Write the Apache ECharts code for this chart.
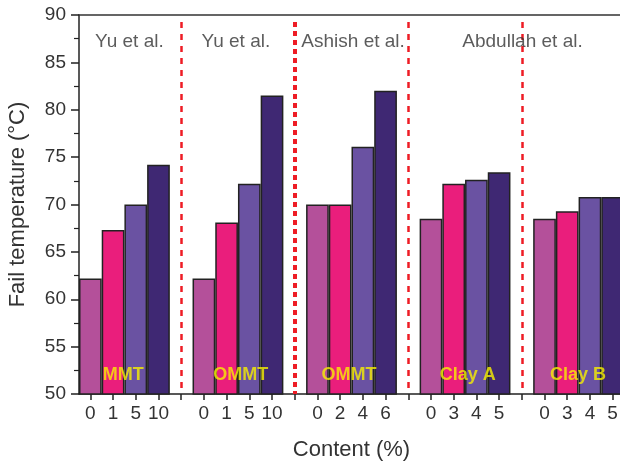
<!DOCTYPE html>
<html>
<head>
<meta charset="utf-8">
<script src="https://cdn.jsdelivr.net/npm/echarts@6/dist/echarts.min.js"></script>
<style>
html,body{margin:0;padding:0;background:#fff;}
#chart{width:620px;height:461px;}
</style>
</head>
<body>
<div id="chart"></div>
<script>
// ---- data ----
const contentLabels = [
  ['0', '1', '5', '10'],
  ['0', '1', '5', '10'],
  ['0', '2', '4', '6'],
  ['0', '3', '4', '5'],
  ['0', '3', '4', '5']
];
const failTemp = [
  [62.2, 67.3, 70.0, 74.2],
  [62.2, 68.1, 72.2, 81.5],
  [70.0, 70.0, 76.1, 82.0],
  [68.5, 72.2, 72.6, 73.4],
  [68.5, 69.3, 70.8, 70.8]
];
const materials = ['MMT', 'OMMT', 'OMMT', 'Clay A', 'Clay B'];
const studies = ['Yu et al.', 'Yu et al.', 'Ashish et al.', 'Abdullah et al.'];
const yMin = 50, yMax = 90, yStep = 5;

// annotation anchors (in category-index units / data units)
const studyX = [1.72, 6.41, 11.57, 19.03];
const studyY = 87.17;
const materialX = [1.45, 6.62, 11.39, 16.62, 21.47];
const materialY = 52.0;

// ---- build ----
const barColors = ['#b4509a', '#ea1e7c', '#6a52a2', '#3f2873'];
const categories = [];
const barData = [];
const separators = [];
contentLabels.forEach((grp, gi) => {
  if (gi > 0) {
    separators.push(categories.length);
    categories.push('');
    barData.push(null);
  }
  grp.forEach((c, i) => {
    categories.push(c);
    barData.push({ value: failTemp[gi][i], itemStyle: { color: barColors[i] } });
  });
});
const nCat = categories.length;

const textData = [];
studies.forEach((s, i) => textData.push({ value: [studyX[i], studyY], name: s, kind: 'study' }));
materials.forEach((m, i) => textData.push({ value: [materialX[i], materialY], name: m, kind: 'mat' }));

const sepLines = separators.map((s, i) => {
  const thick = i === 1;
  return [
    { coord: [s, 89.25], lineStyle: { color: '#ee1c25', width: thick ? 4 : 2.5, type: thick ? [5, 4] : [6, 6] } },
    { coord: [s, yMin] }
  ];
});

const font = 'Liberation Sans, Arial, sans-serif';
const chart = echarts.init(document.getElementById('chart'), null, { renderer: 'canvas' });
chart.setOption({
  animation: false,
  backgroundColor: '#fff',
  grid: { left: 79, right: -4, top: 15, bottom: 67, containLabel: false, outerBoundsMode: 'none' },
  xAxis: [
    {
      type: 'category',
      data: categories,
      position: 'bottom',
      axisLine: { show: true, onZero: false, lineStyle: { color: '#222', width: 1.5 } },
      axisTick: { show: true, alignWithLabel: true, interval: 0, length: 6, lineStyle: { color: '#222', width: 1.5 } },
      axisLabel: { interval: 0, fontSize: 19, color: '#333', margin: 10, fontFamily: font },
      name: 'Content (%)',
      nameLocation: 'middle',
      nameGap: 45,
      nameTextStyle: { fontSize: 22, color: '#333', fontFamily: font },
      splitLine: { show: false }
    },
    {
      type: 'value',
      min: -0.5,
      max: nCat - 0.5,
      position: 'top',
      axisLine: { show: true, onZero: false, lineStyle: { color: '#333', width: 1.5 } },
      axisTick: { show: false },
      axisLabel: { show: false },
      splitLine: { show: false }
    }
  ],
  yAxis: {
    type: 'value',
    min: yMin,
    max: yMax,
    interval: yStep,
    axisLine: { show: true, onZero: false, lineStyle: { color: '#222', width: 1.5 } },
    axisTick: { show: true, length: 8, lineStyle: { color: '#222', width: 1.5 } },
    minorTick: { show: true, splitNumber: 2, length: 5, lineStyle: { color: '#222', width: 1.2 } },
    axisLabel: { fontSize: 19, color: '#333', margin: 13, fontFamily: font },
    splitLine: { show: false },
    name: 'Fail temperature (\u00B0C)',
    nameLocation: 'middle',
    nameGap: 50,
    nameTextStyle: { fontSize: 22, color: '#333', fontFamily: font }
  },
  series: [
    {
      type: 'bar',
      xAxisIndex: 0,
      data: barData,
      barCategoryGap: '0%',
      itemStyle: { borderColor: '#222', borderWidth: 1.5 },
      z: 2
    },
    {
      type: 'scatter',
      xAxisIndex: 1,
      symbolSize: 0,
      silent: true,
      z: 5,
      data: textData.map(d => ({
        value: d.value,
        name: d.name,
        label: d.kind === 'study'
          ? { show: true, position: 'inside', formatter: '{b}', fontSize: 19, color: '#333', fontFamily: font }
          : { show: true, position: 'inside', formatter: '{b}', fontSize: 18, fontWeight: 'bold', color: '#f7f000', fontFamily: font }
      })),
      markLine: {
        silent: true,
        symbol: ['none', 'none'],
        label: { show: false },
        data: sepLines
      }
    }
  ]
});
</script>
</body>
</html>
